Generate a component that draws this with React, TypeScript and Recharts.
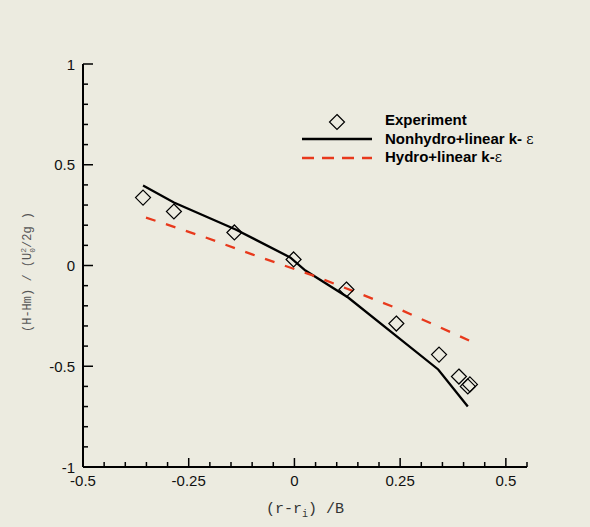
import { ComposedChart, Line, Scatter, XAxis, YAxis } from 'recharts';

// Experiment (diamonds)
const expX = [-0.358, -0.285, -0.142, -0.002, 0.123, 0.241, 0.342, 0.389, 0.41, 0.415];
const expY = [0.337, 0.268, 0.164, 0.03, -0.119, -0.288, -0.442, -0.551, -0.6, -0.59];

// Nonhydro+linear k-e (solid black)
const nonX = [-0.358, -0.285, -0.139, -0.01, 0.026, 0.127, 0.34, 0.41];
const nonY = [0.397, 0.313, 0.179, 0.04, -0.025, -0.159, -0.516, -0.7];

// Hydro+linear k-e (dashed red)
const hydX = [-0.351, -0.21, -0.1, 0.045, 0.15, 0.254, 0.413];
const hydY = [0.238, 0.139, 0.055, -0.05, -0.136, -0.222, -0.372];

const xMajor = [-0.5, -0.25, 0, 0.25, 0.5];
const yMajor = [-1, -0.5, 0, 0.5, 1];

const xTicks = Array.from({ length: 22 }, (_, i) => Math.round((-0.5 + i * 0.05) * 100) / 100);
const yTicks = Array.from({ length: 21 }, (_, i) => Math.round((-1 + i * 0.1) * 10) / 10);

const toPts = (xs: number[], ys: number[]) => xs.map((x, i) => ({ x, y: ys[i] }));
const expData = toPts(expX, expY);
const nonData = toPts(nonX, nonY);
const hydData = toPts(hydX, hydY);

const BG = '#ecebe0';
const RED = '#e8391c';
const TICK_FONT = '"Liberation Sans", Arial, sans-serif';
const MONO = '"Liberation Mono", "DejaVu Sans Mono", monospace';

const isMajor = (v: number, list: number[]) => list.some(m => Math.abs(m - v) < 1e-6);

const XTick = ({ x, y, payload }: any) => {
    const major = isMajor(payload.value, xMajor);
    return (
        <g>
            <line x1={x} x2={x} y1={y} y2={y - (major ? 9 : 5)} stroke="#000" strokeWidth={1.5} />
            {major && (
                <text x={x} y={y + 13} textAnchor="middle" dominantBaseline="central"
                    fontFamily={TICK_FONT} fontSize={15} fill="#111">
                    {payload.value}
                </text>
            )}
        </g>
    );
};

const YTick = ({ x, y, payload }: any) => {
    const major = isMajor(payload.value, yMajor);
    return (
        <g>
            <line x1={x} x2={x + (major ? 10 : 5)} y1={y} y2={y} stroke="#000" strokeWidth={1.5} />
            {major && (
                <text x={x - 8} y={y} textAnchor="end" dominantBaseline="central"
                    fontFamily={TICK_FONT} fontSize={15} fill="#111">
                    {payload.value}
                </text>
            )}
        </g>
    );
};

const Diamond = ({ cx, cy }: any) => {
    if (cx == null || cy == null) return null;
    const r = 7.5;
    return (
        <polygon points={`${cx},${cy - r} ${cx + r},${cy} ${cx},${cy + r} ${cx - r},${cy}`}
            fill="none" stroke="#000" strokeWidth={1.2} />
    );
};

const YLabel = () => (
    <text transform="translate(31,272) rotate(-90)" textAnchor="middle" fontFamily={MONO} fontSize={12} fill="#555">
        (H-Hm) / (U
        <tspan fontSize={8} dy={-5}>2</tspan>
        <tspan fontSize={8} dx={-4.8} dy={9}>0</tspan>
        <tspan fontSize={12} dy={-4}>/2g )</tspan>
    </text>
);

const XLabel = () => (
    <text x={305} y={513} textAnchor="middle" fontFamily={MONO} fontSize={15} fill="#333">
        (r-r
        <tspan fontSize={10} dy={4}>i</tspan>
        <tspan fontSize={15} dy={-4}>) /B</tspan>
    </text>
);

const LegendBox = () => (
    <svg width={590} height={527} style={{ position: 'absolute', left: 0, top: 0, pointerEvents: 'none' }}>
        <g fontFamily={TICK_FONT} fontSize={15} fontWeight="bold" fill="#000">
            <polygon points="337,114.5 344.5,122 337,129.5 329.5,122" fill="none" stroke="#000" strokeWidth={1.2} />
            <text x={385} y={125}>Experiment</text>
            <line x1={302} x2={372} y1={139} y2={139} stroke="#000" strokeWidth={2.5} />
            <text x={385} y={144}>
                Nonhydro+linear k-{' '}
                <tspan fontWeight="normal" fontFamily='"DejaVu Serif", serif' fontSize={14}>ε</tspan>
            </text>
            <line x1={302} x2={372} y1={158} y2={158} stroke={RED} strokeWidth={2.5} strokeDasharray="12 8" />
            <text x={385} y={162}>
                Hydro+linear k-
                <tspan fontWeight="normal" fontFamily='"DejaVu Serif", serif' fontSize={14}>ε</tspan>
            </text>
        </g>
        <YLabel />
        <XLabel />
    </svg>
);

export default function App() {
    return (
        <div style={{ position: 'relative', width: 590, height: 527, background: BG }}>
            <style>{`body{margin:0;background:${BG};}`}</style>
            <ComposedChart width={590} height={527} margin={{ top: 64, right: 63, bottom: 30, left: 23 }}>
                <XAxis
                    type="number"
                    dataKey="x"
                    domain={[-0.5, 0.55]}
                    ticks={xTicks}
                    interval={0}
                    allowDataOverflow
                    height={30}
                    tickSize={0}
                    tickMargin={0}
                    tickLine={false}
                    tick={<XTick />}
                    axisLine={{ stroke: '#000', strokeWidth: 2 }}
                />
                <YAxis
                    type="number"
                    dataKey="y"
                    domain={[-1, 1]}
                    ticks={yTicks}
                    interval={0}
                    allowDataOverflow
                    width={60}
                    tickSize={0}
                    tickMargin={0}
                    tickLine={false}
                    tick={<YTick />}
                    axisLine={{ stroke: '#000', strokeWidth: 2 }}
                />
                <Line data={nonData} dataKey="y" type="linear" stroke="#000" strokeWidth={2.3}
                    dot={false} activeDot={false} isAnimationActive={false} />
                <Line data={hydData} dataKey="y" type="linear" stroke={RED} strokeWidth={2.3}
                    strokeDasharray="10 11" dot={false} activeDot={false} isAnimationActive={false} />
                <Scatter data={expData} dataKey="y" shape={<Diamond />} isAnimationActive={false} />
            </ComposedChart>
            <LegendBox />
        </div>
    );
}
